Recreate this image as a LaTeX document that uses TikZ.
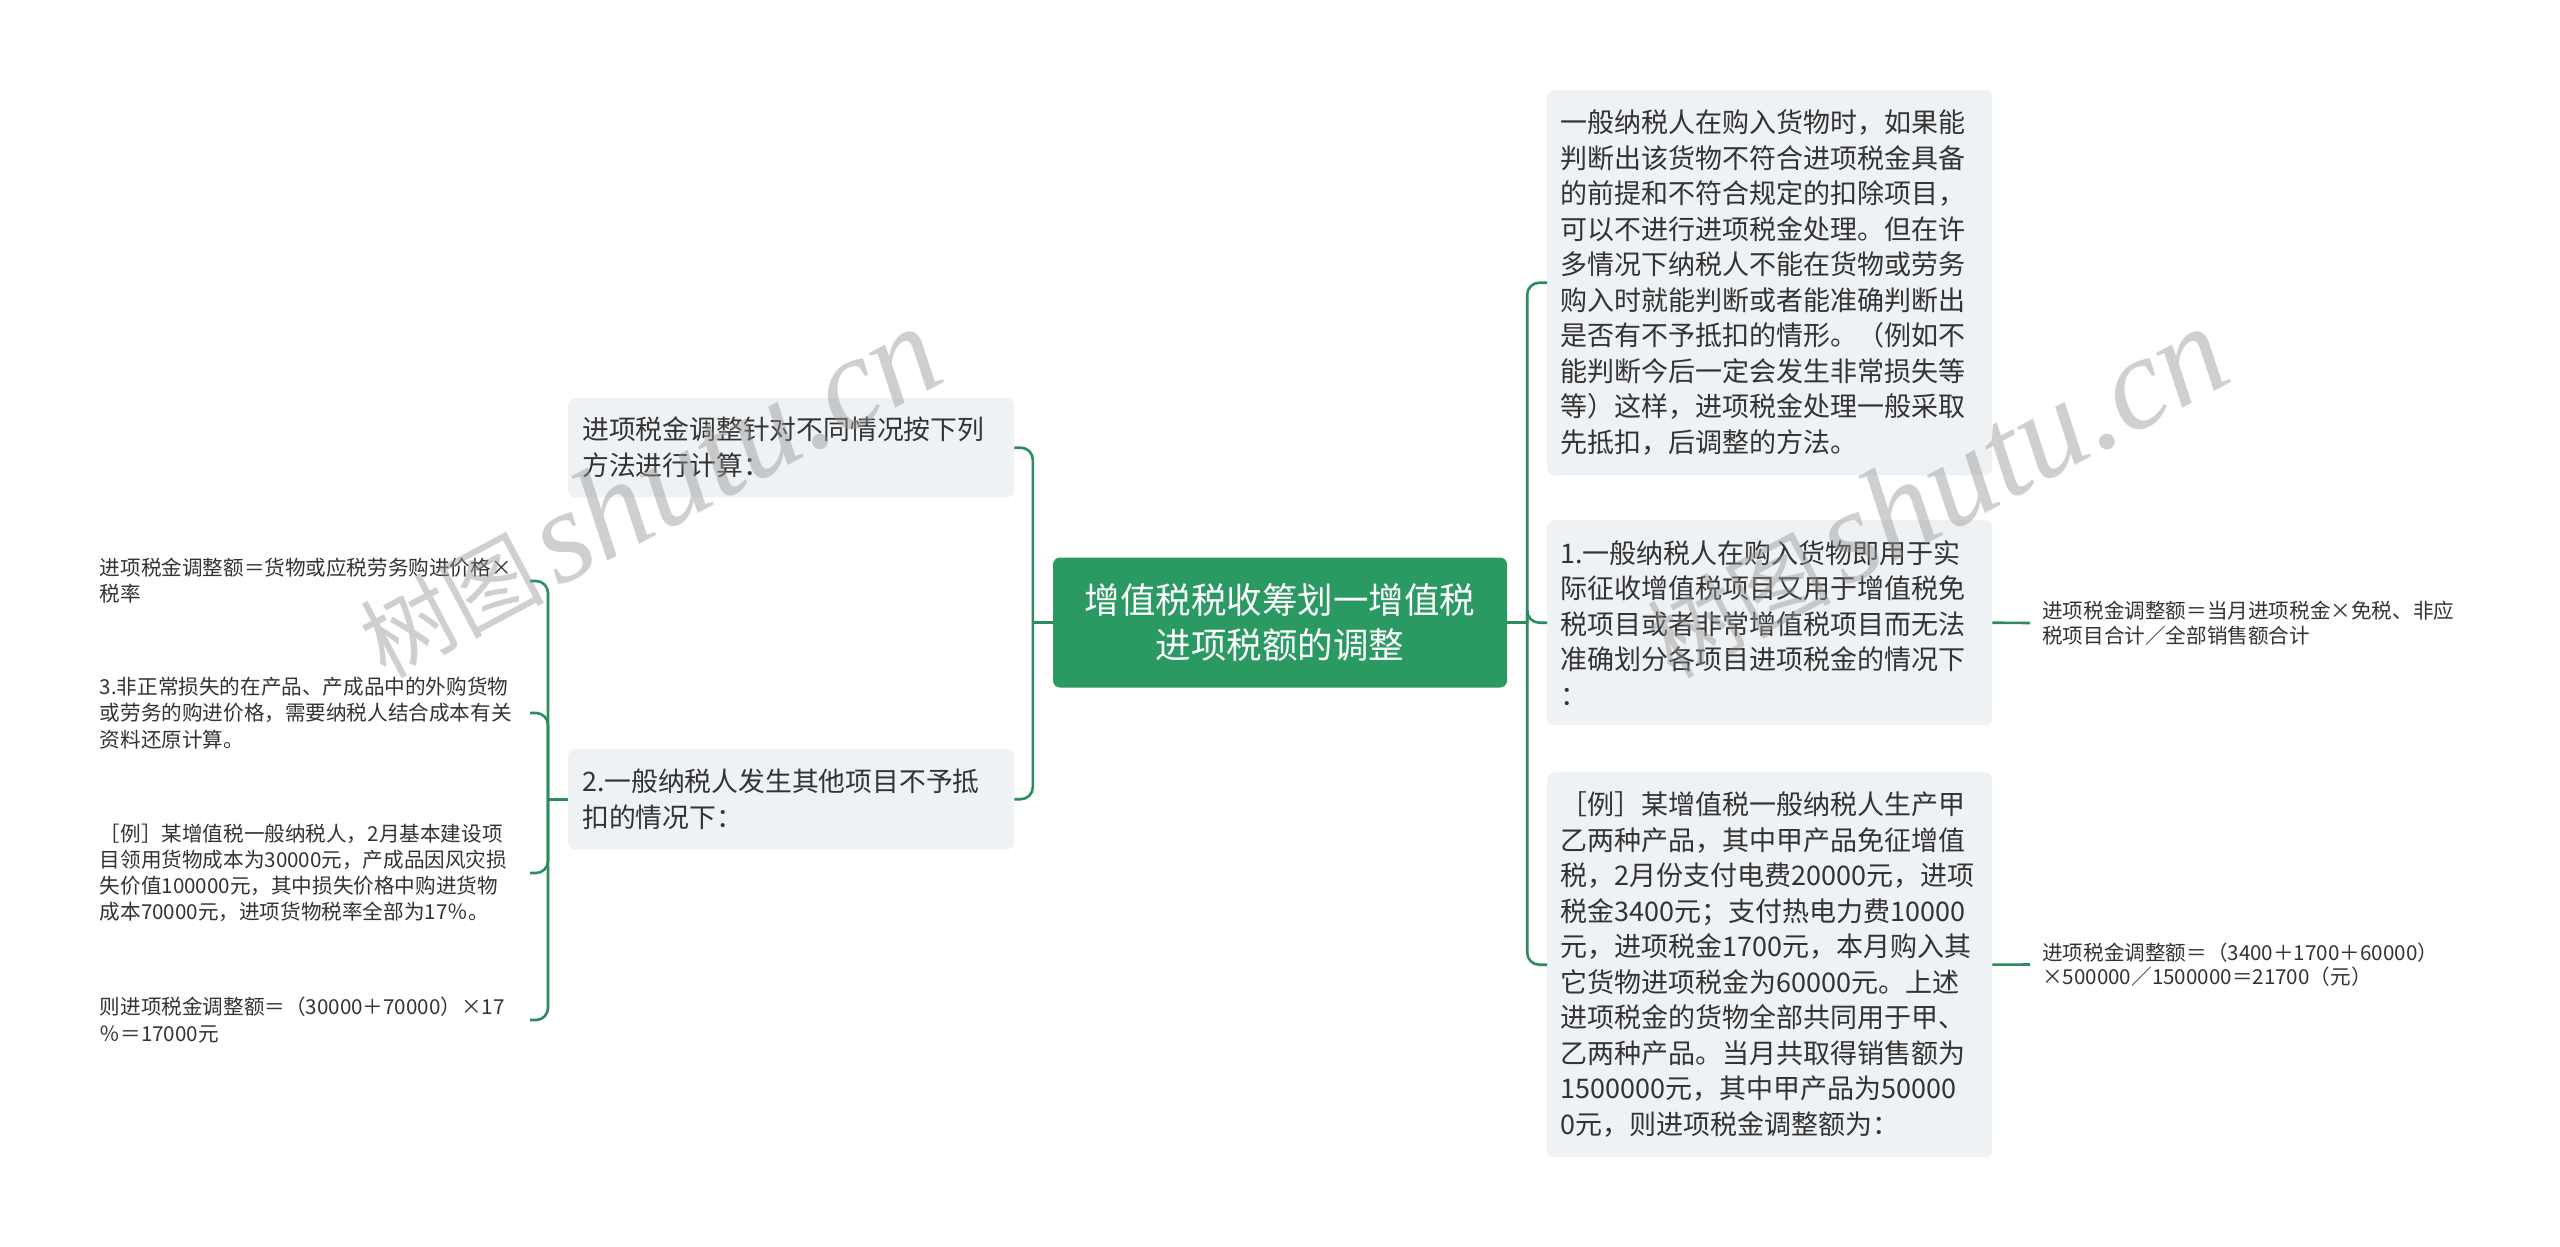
\documentclass[tikz,border=0pt]{standalone}
\usepackage{fontspec}
\setmainfont{Noto Sans CJK SC}
\newfontfamily\wmserif{Liberation Serif}
\definecolor{rootgreen}{RGB}{42,153,98}
\definecolor{linegreen}{RGB}{46,139,94}
\definecolor{boxbg}{RGB}{239,242,245}
\definecolor{txt}{RGB}{51,51,51}
\definecolor{wmgray}{RGB}{150,150,150}
\begin{document}
\begin{tikzpicture}[x=1pt,y=-1pt,
  conn/.style={draw=linegreen, line width=2.6pt, rounded corners=12pt},
  root/.style={fill=rootgreen, rounded corners=7pt, text=white, align=center,
    minimum width=454pt, minimum height=130pt, inner sep=0pt,
    font=\fontsize{35.5}{45}\selectfont},
  lbox/.style={fill=boxbg, rounded corners=7pt, text=txt, align=left,
    anchor=north west, text width=418pt, inner xsep=14pt, inner ysep=0pt,
    font=\fontsize{26.8}{36}\selectfont},
  rbox/.style={fill=boxbg, rounded corners=7pt, text=txt, align=left,
    anchor=north west, text width=419pt, inner xsep=13pt, inner ysep=0pt,
    font=\fontsize{27}{35.5}\selectfont},
  rleaf/.style={text=txt, align=left, anchor=west, inner xsep=12pt, inner ysep=0pt,
    font=\fontsize{20.6}{24.5}\selectfont},
  lleaf/.style={text=txt, align=left, anchor=east, text width=430pt, inner xsep=0pt,
    inner ysep=0pt, font=\fontsize{20.6}{26.2}\selectfont},
  wm/.style={text=wmgray, text opacity=0.45, inner sep=0pt}]
\useasboundingbox (0,0) rectangle (2560,1247);
\fill[white] (0,0) rectangle (2560,1247);

% root
\node[root] (C) at (1280,622.5) {增值税税收筹划一增值税\\进项税额的调整};

% left main branches
\node[lbox, minimum height=99pt] (L1) at (568,398) {进项税金调整针对不同情况按下列\\方法进行计算：};
\node[lbox, minimum height=100pt] (L2) at (568,749) {2.一般纳税人发生其他项目不予抵\\扣的情况下：};

% right main branches
\node[rbox, minimum height=385pt] (R1) at (1547,90) {一般纳税人在购入货物时，如果能\\判断出该货物不符合进项税金具备\\的前提和不符合规定的扣除项目，\\可以不进行进项税金处理。但在许\\多情况下纳税人不能在货物或劳务\\购入时就能判断或者能准确判断出\\是否有不予抵扣的情形。（例如不\\能判断今后一定会发生非常损失等\\等）这样，进项税金处理一般采取\\先抵扣，后调整的方法。};
\node[rbox, minimum height=205pt] (R2) at (1547,520) {1.一般纳税人在购入货物即用于实\\际征收增值税项目又用于增值税免\\税项目或者非常增值税项目而无法\\准确划分各项目进项税金的情况下\\：};
\node[rbox, minimum height=385pt] (R3) at (1547,772) {［例］某增值税一般纳税人生产甲\\乙两种产品，其中甲产品免征增值\\税，2月份支付电费20000元，进项\\税金3400元；支付热电力费10000\\元，进项税金1700元，本月购入其\\它货物进项税金为60000元。上述\\进项税金的货物全部共同用于甲、\\乙两种产品。当月共取得销售额为\\1500000元，其中甲产品为50000\\0元，则进项税金调整额为：};

% right leaves
\node[rleaf] (R2c) at (2030,623) {进项税金调整额＝当月进项税金×免税、非应\\税项目合计／全部销售额合计};
\node[rleaf] (R3c) at (2030,964.5) {进项税金调整额＝（3400＋1700＋60000）\\×500000／1500000＝21700（元）};

% left leaves
\node[lleaf] (T1) at (530,581) {进项税金调整额＝货物或应税劳务购进价格×\\税率};
\node[lleaf] (T2) at (530,713) {3.非正常损失的在产品、产成品中的外购货物\\或劳务的购进价格，需要纳税人结合成本有关\\资料还原计算。};
\node[lleaf] (T3) at (530,873) {［例］某增值税一般纳税人，2月基本建设项\\目领用货物成本为30000元，产成品因风灾损\\失价值100000元，其中损失价格中购进货物\\成本70000元，进项货物税率全部为17％。};
\node[lleaf] (T4) at (530,1020) {则进项税金调整额＝（30000＋70000）×17\\％＝17000元};

% connectors
\draw[conn] (C.west) -- ++(-20,0) coordinate (cl);
\draw[conn] (cl) |- (L1.east);
\draw[conn] (cl) |- (L2.east);
\draw[conn] (C.east) -- ++(20,0) coordinate (cr);
\draw[conn] (cr) |- (R1.west);
\draw[conn] (cr) |- (R2.west);
\draw[conn] (cr) |- (R3.west);
\draw[conn] (R2.east) -- (R2c.west);
\draw[conn] (R3.east) -- (R3c.west);
\draw[conn] (L2.west) -- ++(-20,0) coordinate (bl);
\draw[conn] (bl) |- (T1.east);
\draw[conn] (bl) |- (T2.east);
\draw[conn] (bl) |- (T3.east);
\draw[conn] (bl) |- (T4.east);

% watermarks
\node[wm, rotate=28] (wm1) at (648,492) {\fontsize{92}{92}\selectfont 树图\hspace{12pt}{\wmserif\itshape\fontsize{132}{132}\selectfont shutu.cn}};
\node[wm, rotate=28] (wm2) at (1935,492) {\fontsize{92}{92}\selectfont 树图\hspace{12pt}{\wmserif\itshape\fontsize{132}{132}\selectfont shutu.cn}};
\end{tikzpicture}
\end{document}
